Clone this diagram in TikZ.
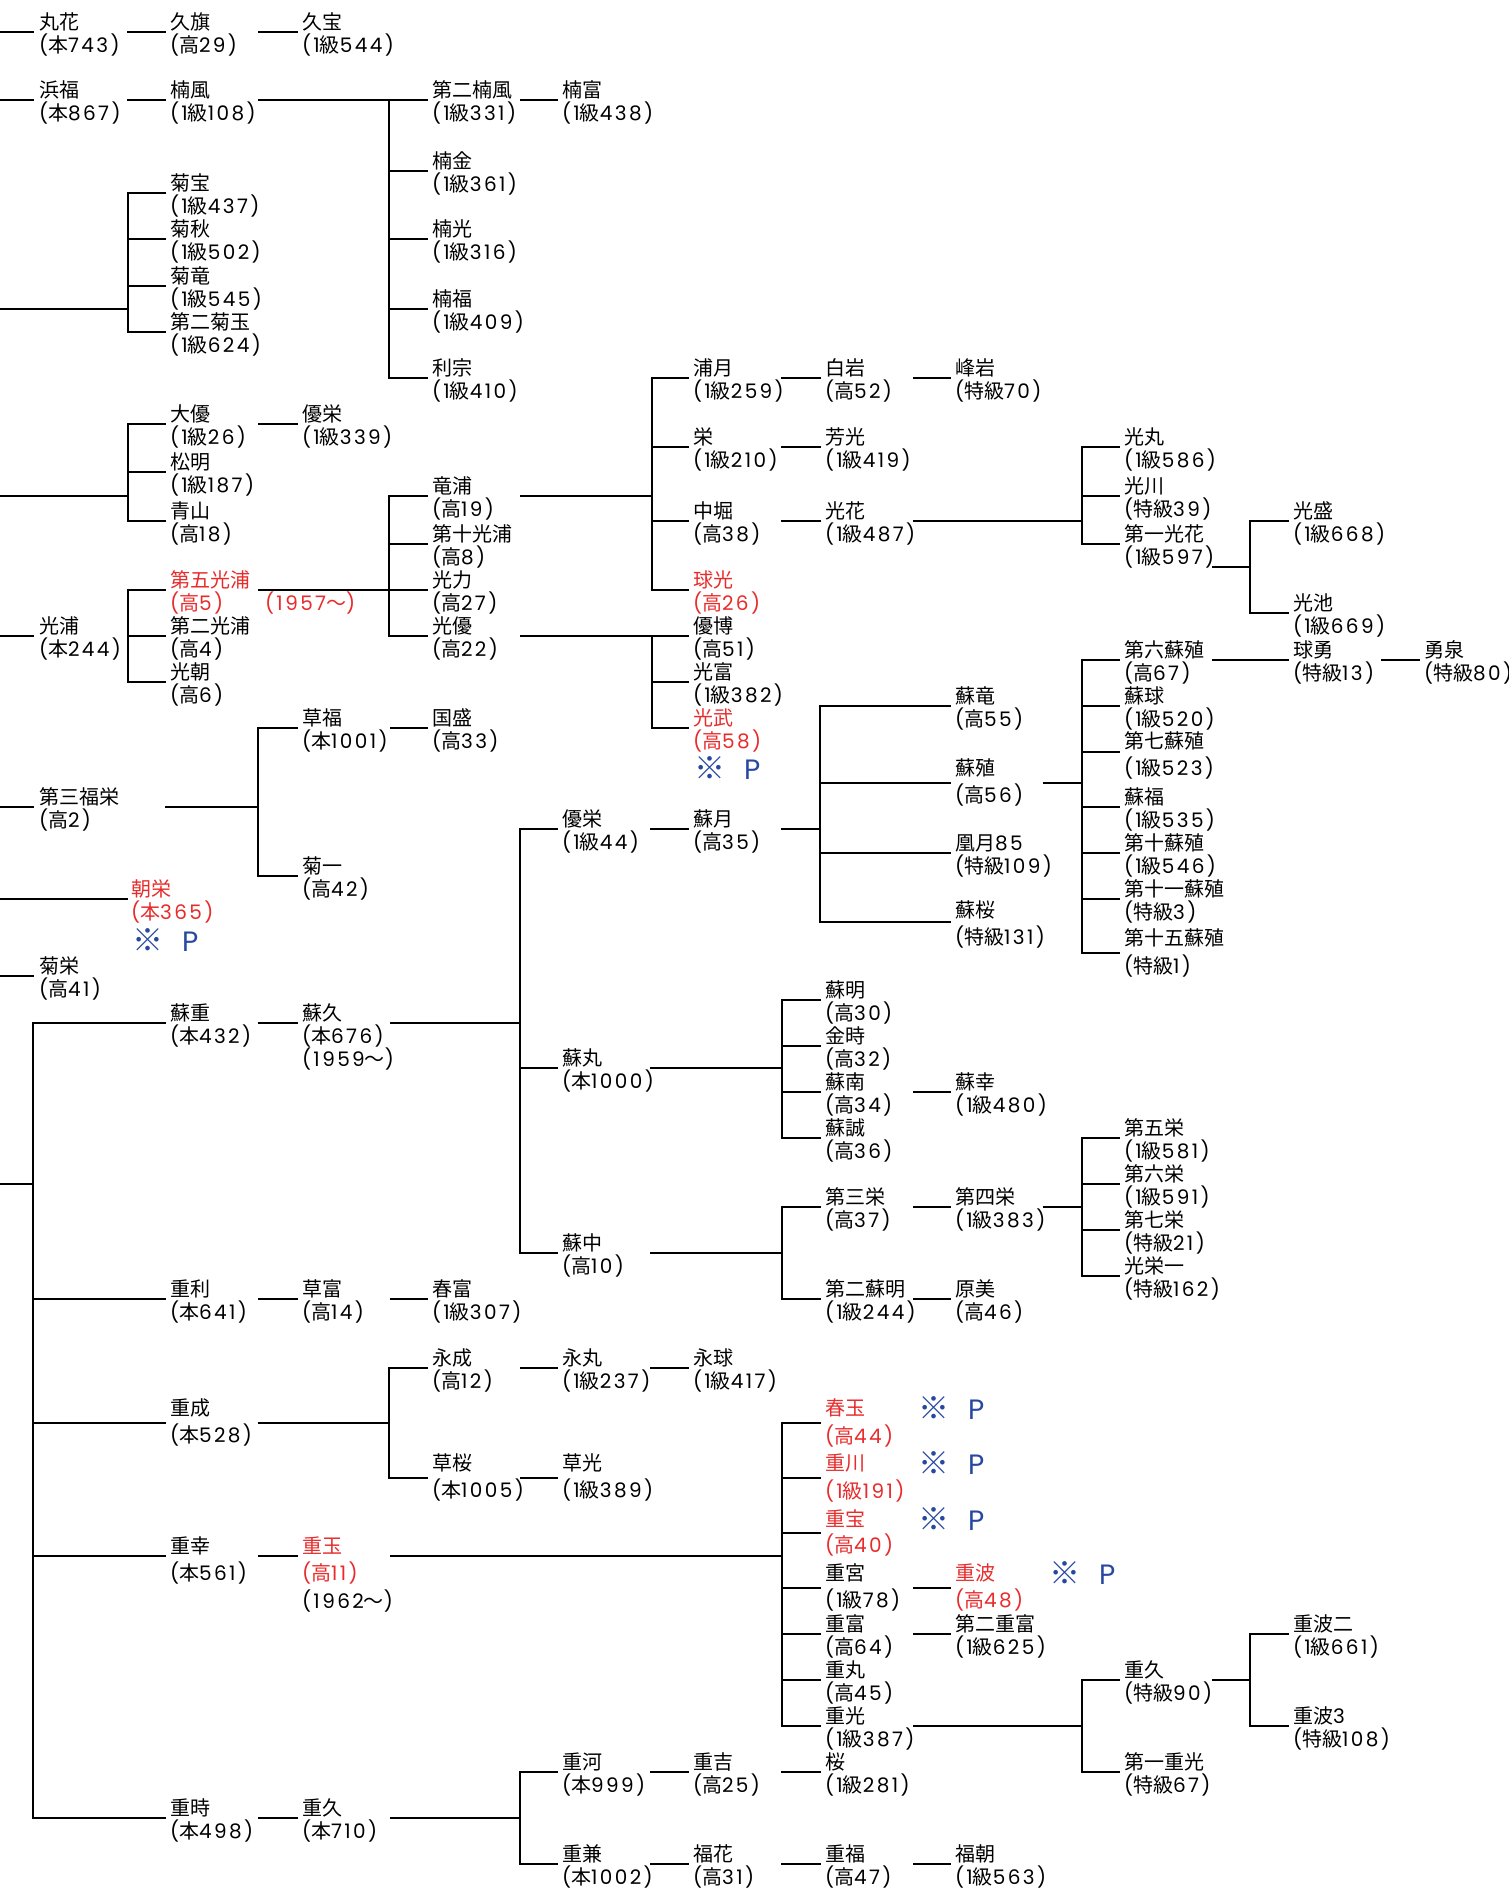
\documentclass[tikz,border=0pt]{standalone}
\usepackage{fontspec}
\setmainfont{Noto Sans CJK JP}
\newfontfamily\latn{Poppins}[Numbers=Monospaced,LetterSpace=12]
\newfontfamily\latp{Poppins}
\definecolor{rd}{RGB}{232,44,44}
\definecolor{bl}{RGB}{38,72,160}
\newcommand\two[3][23pt]{\raisebox{3pt}{\vtop{\baselineskip=#1\relax\lineskiplimit=-100pt\hbox{#2}\hbox{#3}}}}
\newcommand\tworg[4]{\raisebox{#1}{\vtop{\baselineskip=#2\relax\lineskiplimit=-100pt\hbox{#3}\hbox{#4}}}}
\newcommand\three[5]{\raisebox{#1}{\vtop{\baselineskip=#2\relax\lineskiplimit=-100pt\hbox{#3}\hbox{#4}\hbox{#5}}}}
\newcommand\nB[1]{{\latn(}本{\latn#1)}}
\newcommand\nK[1]{{\latn(}高{\latn#1)}}
\newcommand\nI[1]{{\latn(1}級{\latn#1)}}
\newcommand\nT[1]{{\latn(}特級{\latn#1)}}
\newcommand\nY[1]{{\latn(#1}～{\latn)}}
\newcommand\kp{\raisebox{0pt}[21pt][0pt]{\makebox[50pt][l]{\fontsize{31}{34}\selectfont ※}{\latp\fontsize{28}{30}\selectfont P}}}
\newcommand\busline[4]{\draw[ln] (#2.base west -| #1) -- (#3.base west -| #1);
  \foreach \c in {#4}{\draw[ln] (\c.base west -| #1) -- ([xshift=-5pt]\c.base west);}}
\newcommand\pline[2]{\draw[ln] ([xshift=89pt]#1.base west) -- (#1.base west -| #2);}
\begin{document}
\begin{tikzpicture}[x=1pt,y=-1pt,
  pn/.style={anchor=base west, inner sep=0pt, outer sep=0pt, font=\fontsize{20}{23}\selectfont},
  sp/.style={anchor=base west, inner sep=0pt, outer sep=0pt, text=bl},
  ln/.style={line width=1.9pt, line cap=rect}]
\fill[white] (0,0) rectangle (1509,1888);
\useasboundingbox (0,0) rectangle (1509,1888);

% ---------- nodes ----------
\node[pn] (n1) at (39,32) {\two{丸花}{\nB{743}}};
\node[pn] (n2) at (170,32) {\two{久旗}{\nK{29}}};
\node[pn] (n3) at (302,32) {\two{久宝}{\nI{544}}};
\node[pn] (n4) at (39,100) {\two{浜福}{\nB{867}}};
\node[pn] (n5) at (170,100) {\two{楠風}{\nI{108}}};
\node[pn] (n6) at (432,100) {\two{第二楠風}{\nI{331}}};
\node[pn] (n7) at (562,100) {\two{楠富}{\nI{438}}};
\node[pn] (n8) at (432,171) {\two{楠金}{\nI{361}}};
\node[pn] (n9) at (432,239) {\two{楠光}{\nI{316}}};
\node[pn] (n10) at (432,309) {\two{楠福}{\nI{409}}};
\node[pn] (n11) at (432,378) {\two{利宗}{\nI{410}}};
\node[pn] (k1) at (170,193) {\two{菊宝}{\nI{437}}};
\node[pn] (k2) at (170,239) {\two{菊秋}{\nI{502}}};
\node[pn] (k3) at (170,286) {\two{菊竜}{\nI{545}}};
\node[pn] (k4) at (170,332) {\two{第二菊玉}{\nI{624}}};
\node[pn] (d1) at (170,424) {\two{大優}{\nI{26}}};
\node[pn] (d2) at (302,424) {\two{優栄}{\nI{339}}};
\node[pn] (d3) at (170,472) {\two{松明}{\nI{187}}};
\node[pn] (d4) at (170,521) {\two{青山}{\nK{18}}};
\node[pn] (m1) at (39,636) {\two{光浦}{\nB{244}}};
\node[pn,text=rd] (m2) at (170,590) {\two{第五光浦}{\nK{5}}};
\node[pn] (m3) at (170,636) {\two{第二光浦}{\nK{4}}};
\node[pn] (m4) at (170,682) {\two{光朝}{\nK{6}}};
\node[pn,text=rd] (m5) at (265,610) {\nY{1957}};
\node[pn] (r1) at (432,496) {\two{竜浦}{\nK{19}}};
\node[pn] (r2) at (432,544) {\two{第十光浦}{\nK{8}}};
\node[pn] (r3) at (432,590) {\two{光力}{\nK{27}}};
\node[pn] (r4) at (432,636) {\two{光優}{\nK{22}}};
\node[pn] (u1) at (693,378) {\two{浦月}{\nI{259}}};
\node[pn] (u2) at (825,378) {\two{白岩}{\nK{52}}};
\node[pn] (u3) at (955,378) {\two{峰岩}{\nT{70}}};
\node[pn] (u4) at (693,447) {\two{栄}{\nI{210}}};
\node[pn] (u5) at (825,447) {\two{芳光}{\nI{419}}};
\node[pn] (u6) at (693,521) {\two{中堀}{\nK{38}}};
\node[pn] (u7) at (825,521) {\two{光花}{\nI{487}}};
\node[pn,text=rd] (u8) at (693,590) {\two{球光}{\nK{26}}};
\node[pn] (h1) at (1124,447) {\two{光丸}{\nI{586}}};
\node[pn] (h2) at (1124,496) {\two{光川}{\nT{39}}};
\node[pn] (h3) at (1124,544) {\two{第一光花}{\nI{597}}};
\node[pn] (h4) at (1293,521) {\two{光盛}{\nI{668}}};
\node[pn] (h5) at (1293,613) {\two{光池}{\nI{669}}};
\node[pn] (p1) at (693,636) {\two{優博}{\nK{51}}};
\node[pn] (p2) at (693,682) {\two{光富}{\nI{382}}};
\node[pn,text=rd] (p3) at (693,728) {\two{光武}{\nK{58}}};
\node[sp] (p3m) at (694,779) {\kp};
\node[pn] (f1) at (39,807) {\two{第三福栄}{\nK{2}}};
\node[pn] (f2) at (302,728) {\two{草福}{\nB{1001}}};
\node[pn] (f3) at (432,728) {\two{国盛}{\nK{33}}};
\node[pn] (f4) at (302,876) {\two{菊一}{\nK{42}}};
\node[pn,text=rd] (a1) at (131,899) {\two{朝栄}{\nB{365}}};
\node[sp] (a1m) at (132,951) {\kp};
\node[pn] (a2) at (39,976) {\two{菊栄}{\nK{41}}};
\node[pn] (s1) at (170,1023) {\two{蘇重}{\nB{432}}};
\node[pn] (s2) at (302,1023) {\three{3pt}{23pt}{蘇久}{\nB{676}}{\nY{1959}}};
\node[pn] (s3) at (562,829) {\two{優栄}{\nI{44}}};
\node[pn] (s4) at (693,829) {\two{蘇月}{\nK{35}}};
\node[pn] (s5) at (955,706) {\two{蘇竜}{\nK{55}}};
\node[pn] (s6) at (955,783) {\tworg{7.6pt}{27pt}{蘇殖}{\nK{56}}};
\node[pn] (s7) at (955,853) {\two{凰月{\latn 85}}{\nT{109}}};
\node[pn] (s8) at (955,922) {\tworg{4.6pt}{27pt}{蘇桜}{\nT{131}}};
\node[pn] (t1) at (1124,660) {\two{第六蘇殖}{\nK{67}}};
\node[pn] (t2) at (1124,706) {\two{蘇球}{\nI{520}}};
\node[pn] (t3) at (1124,752) {\tworg{3.6pt}{27pt}{第七蘇殖}{\nI{523}}};
\node[pn] (t4) at (1124,807) {\two{蘇福}{\nI{535}}};
\node[pn] (t5) at (1124,853) {\two{第十蘇殖}{\nI{546}}};
\node[pn] (t6) at (1124,899) {\two{第十一蘇殖}{\nT{3}}};
\node[pn] (t7) at (1124,953) {\tworg{7.6pt}{28pt}{第十五蘇殖}{\nT{1}}};
\node[pn] (t8) at (1293,660) {\two{球勇}{\nT{13}}};
\node[pn] (t9) at (1424,660) {\two{勇泉}{\nT{80}}};
\node[pn] (v1) at (562,1068) {\two{蘇丸}{\nB{1000}}};
\node[pn] (v2) at (825,1000) {\two{蘇明}{\nK{30}}};
\node[pn] (v3) at (825,1046) {\two{金時}{\nK{32}}};
\node[pn] (v4) at (825,1092) {\two{蘇南}{\nK{34}}};
\node[pn] (v5) at (825,1138) {\two{蘇誠}{\nK{36}}};
\node[pn] (v6) at (955,1092) {\two{蘇幸}{\nI{480}}};
\node[pn] (w1) at (562,1253) {\two{蘇中}{\nK{10}}};
\node[pn] (w2) at (825,1207) {\two{第三栄}{\nK{37}}};
\node[pn] (w3) at (955,1207) {\two{第四栄}{\nI{383}}};
\node[pn] (w4) at (825,1299) {\two{第二蘇明}{\nI{244}}};
\node[pn] (w5) at (955,1299) {\two{原美}{\nK{46}}};
\node[pn] (w6) at (1124,1138) {\two{第五栄}{\nI{581}}};
\node[pn] (w7) at (1124,1184) {\two{第六栄}{\nI{591}}};
\node[pn] (w8) at (1124,1230) {\two{第七栄}{\nT{21}}};
\node[pn] (w9) at (1124,1276) {\two{光栄一}{\nT{162}}};
\node[pn] (x1) at (170,1299) {\two{重利}{\nB{641}}};
\node[pn] (x2) at (302,1299) {\two{草富}{\nK{14}}};
\node[pn] (x3) at (432,1299) {\two{春富}{\nI{307}}};
\node[pn] (y1) at (170,1423) {\tworg{7.6pt}{27pt}{重成}{\nB{528}}};
\node[pn] (y2) at (432,1368) {\two{永成}{\nK{12}}};
\node[pn] (y3) at (562,1368) {\two{永丸}{\nI{237}}};
\node[pn] (y4) at (693,1368) {\two{永球}{\nI{417}}};
\node[pn] (y5) at (432,1478) {\tworg{7.6pt}{27pt}{草桜}{\nB{1005}}};
\node[pn] (y6) at (562,1478) {\tworg{7.6pt}{27pt}{草光}{\nI{389}}};
\node[pn] (z1) at (170,1556) {\tworg{2.6pt}{27pt}{重幸}{\nB{561}}};
\node[pn] (z2) at (302,1556) {\three{2.6pt}{27.5pt}{\textcolor{rd}{重玉}}{\textcolor{rd}{\nK{11}}}{\nY{1962}}};
\node[pn,text=rd] (z3) at (825,1423) {\tworg{7.6pt}{28pt}{春玉}{\nK{44}}};
\node[sp] (z3m) at (918,1419) {\kp};
\node[pn,text=rd] (z4) at (825,1478) {\tworg{7.6pt}{28pt}{重川}{\nI{191}}};
\node[sp] (z4m) at (918,1474) {\kp};
\node[pn,text=rd] (z5) at (825,1533) {\tworg{6.6pt}{26pt}{重宝}{\nK{40}}};
\node[sp] (z5m) at (918,1530) {\kp};
\node[pn] (z6) at (825,1588) {\tworg{7.6pt}{27pt}{重宮}{\nI{78}}};
\node[pn,text=rd] (z7) at (955,1588) {\tworg{7.6pt}{27pt}{重波}{\nK{48}}};
\node[sp] (z7m) at (1049,1584) {\kp};
\node[pn] (z8) at (825,1634) {\two{重富}{\nK{64}}};
\node[pn] (z9) at (955,1634) {\two{第二重富}{\nI{625}}};
\node[pn] (z10) at (825,1680) {\two{重丸}{\nK{45}}};
\node[pn] (z11) at (825,1726) {\two{重光}{\nI{387}}};
\node[pn] (q1) at (1124,1680) {\two{重久}{\nT{90}}};
\node[pn] (q2) at (1124,1772) {\two{第一重光}{\nT{67}}};
\node[pn] (q3) at (1293,1634) {\two{重波二}{\nI{661}}};
\node[pn] (q4) at (1293,1726) {\two{重波{\latn 3}}{\nT{108}}};
\node[pn] (o1) at (170,1818) {\two{重時}{\nB{498}}};
\node[pn] (o2) at (302,1818) {\two{重久}{\nB{710}}};
\node[pn] (o3) at (562,1772) {\two{重河}{\nB{999}}};
\node[pn] (o4) at (693,1772) {\two{重吉}{\nK{25}}};
\node[pn] (o5) at (825,1772) {\two{桜}{\nI{281}}};
\node[pn] (o6) at (562,1864) {\two{重兼}{\nB{1002}}};
\node[pn] (o7) at (693,1864) {\two{福花}{\nK{31}}};
\node[pn] (o8) at (825,1864) {\two{重福}{\nK{47}}};
\node[pn] (o9) at (955,1864) {\two{福朝}{\nI{563}}};

% ---------- simple parent-child links ----------
\foreach \p/\c in {n1/n2,n2/n3,n4/n5,n6/n7,d1/d2,u1/u2,u2/u3,u4/u5,u6/u7,f2/f3,s1/s2,s3/s4,t1/t8,t8/t9,v4/v6,w2/w3,w4/w5,x1/x2,x2/x3,y2/y3,y3/y4,y5/y6,z1/z2,z6/z7,z8/z9,o1/o2,o3/o4,o4/o5,o6/o7,o7/o8,o8/o9}
  {\draw[ln] ([xshift=89pt]\p.base west) -- ([xshift=-5pt]\c.base west);}

% ---------- free ends at the left edge ----------
\coordinate (L1) at (0,32);
\coordinate (L2) at (0,100);
\coordinate (L3) at (0,309);
\coordinate (L4) at (0,496);
\coordinate (L5) at (0,636);
\coordinate (L6) at (0,807);
\coordinate (L7) at (0,899);
\coordinate (L8) at (0,976);
\coordinate (L9) at (0,1184);
\draw[ln] (L1) -- ([xshift=-6pt]n1.base west);
\draw[ln] (L2) -- ([xshift=-6pt]n4.base west);
\draw[ln] (L5) -- ([xshift=-6pt]m1.base west);
\draw[ln] (L6) -- ([xshift=-6pt]f1.base west);
\draw[ln] (L7) -- ([xshift=-4pt]a1.base west);
\draw[ln] (L8) -- ([xshift=-6pt]a2.base west);

% ---------- bus positions ----------
\coordinate (b1) at (389,0);
\coordinate (b2) at (128,0);
\coordinate (b3) at (128,0);
\coordinate (b4) at (128,0);
\coordinate (b5) at (389,0);
\coordinate (b6) at (652,0);
\coordinate (b7) at (1082,0);
\coordinate (b8) at (1250,0);
\coordinate (b9) at (652,0);
\coordinate (b10) at (258,0);
\coordinate (b11) at (33,0);
\coordinate (b12) at (520,0);
\coordinate (b13) at (820,0);
\coordinate (b14) at (1082,0);
\coordinate (b15) at (782,0);
\coordinate (b16) at (782,0);
\coordinate (b17) at (1082,0);
\coordinate (b18) at (389,0);
\coordinate (b19) at (782,0);
\coordinate (b20) at (1082,0);
\coordinate (b21) at (1250,0);
\coordinate (b22) at (520,0);

% ---------- parent lines into buses ----------
\pline{n5}{b1}
\draw[ln] (L3) -- (L3 -| b2);
\draw[ln] (L4) -- (L4 -| b3);
\pline{m2}{b5}
\pline{r1}{b6}
\pline{u7}{b7}
\coordinate (h3o) at ([yshift=-23pt]h3.base west);
\draw[ln] ([xshift=89pt]h3o) -- (h3o -| b8);
\pline{r4}{b9}
\draw[ln] ([xshift=127pt]f1.base west) -- (f1.base west -| b10);
\draw[ln] (L9) -- (L9 -| b11);
\pline{s2}{b12}
\pline{s4}{b13}
\pline{s6}{b14}
\pline{v1}{b15}
\pline{w1}{b16}
\pline{w3}{b17}
\pline{y1}{b18}
\pline{z2}{b19}
\pline{z11}{b20}
\pline{q1}{b21}
\pline{o2}{b22}

% ---------- buses and child stubs ----------
\busline{b1}{n6}{n11}{n6,n8,n9,n10,n11}
\busline{b2}{k1}{k4}{k1,k2,k3,k4}
\busline{b3}{d1}{d4}{d1,d3,d4}
\busline{b4}{m2}{m4}{m2,m3,m4}
\busline{b5}{r1}{r4}{r1,r2,r3,r4}
\busline{b6}{u1}{u8}{u1,u4,u6,u8}
\busline{b7}{h1}{h3}{h1,h2,h3}
\busline{b8}{h4}{h5}{h4,h5}
\busline{b9}{p1}{p3}{p1,p2,p3}
\busline{b10}{f2}{f4}{f2,f4}
\busline{b11}{s1}{o1}{s1,x1,y1,z1,o1}
\busline{b12}{s3}{w1}{s3,v1,w1}
\busline{b13}{s5}{s8}{s5,s6,s7,s8}
\busline{b14}{t1}{t7}{t1,t2,t3,t4,t5,t6,t7}
\busline{b15}{v2}{v5}{v2,v3,v4,v5}
\busline{b16}{w2}{w4}{w2,w4}
\busline{b17}{w6}{w9}{w6,w7,w8,w9}
\busline{b18}{y2}{y5}{y2,y5}
\busline{b19}{z3}{z11}{z3,z4,z5,z6,z8,z10,z11}
\busline{b20}{q1}{q2}{q1,q2}
\busline{b21}{q3}{q4}{q3,q4}
\busline{b22}{o3}{o6}{o3,o6}
\end{tikzpicture}
\end{document}
